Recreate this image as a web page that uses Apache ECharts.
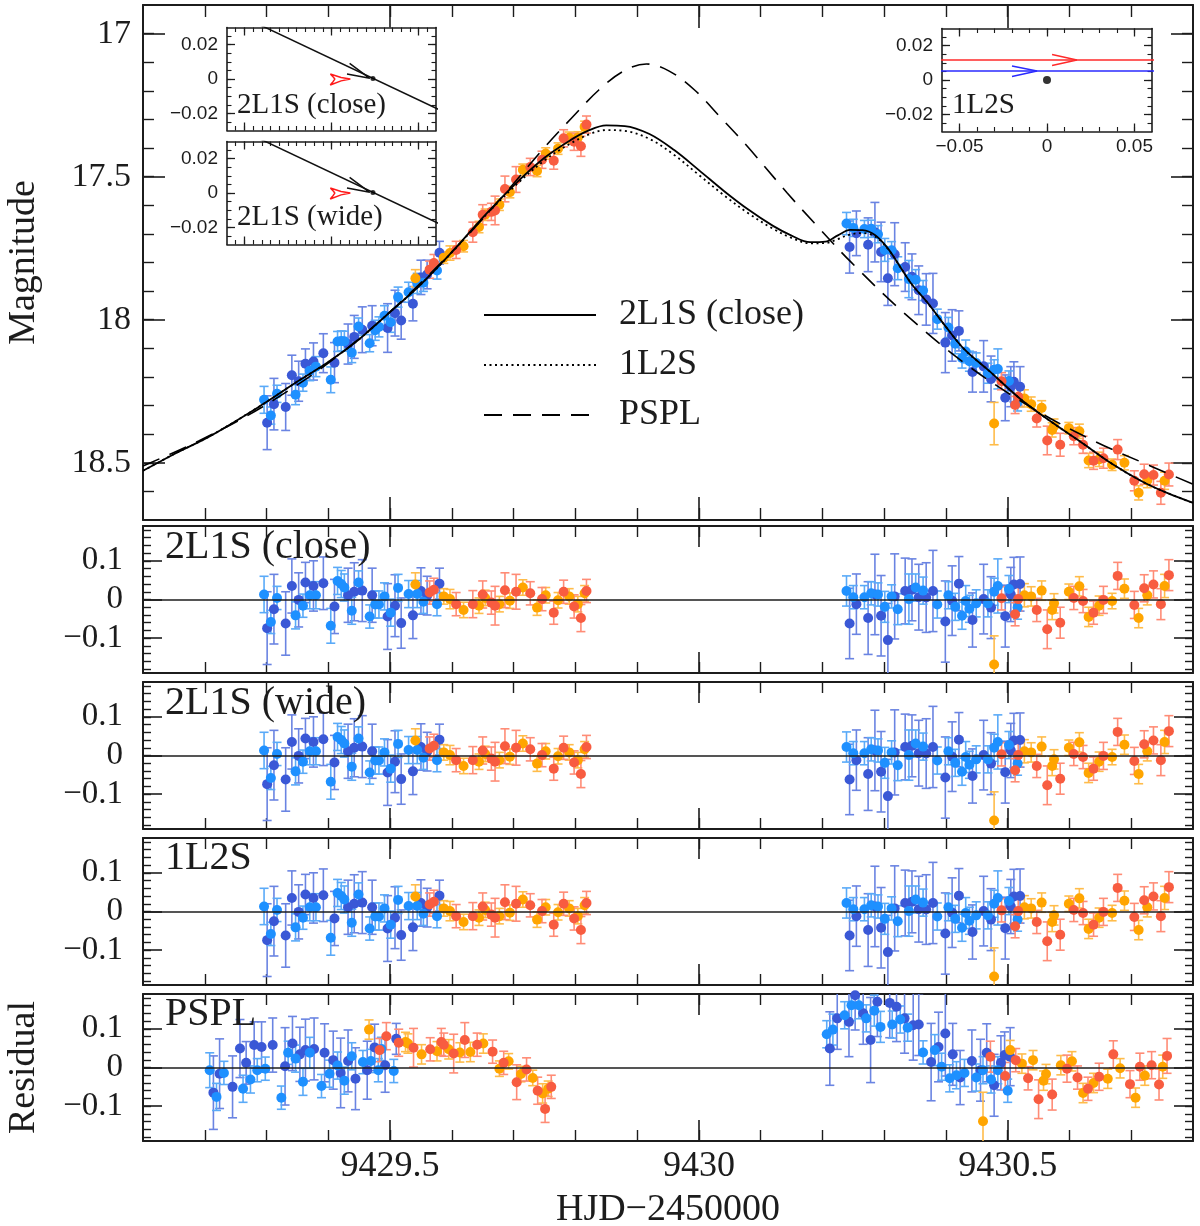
<!DOCTYPE html>
<html><head><meta charset="utf-8">
<script src="https://cdn.jsdelivr.net/npm/echarts@6/dist/echarts.min.js"></script>
<style>html,body{margin:0;padding:0;background:#fff}#c{width:1200px;height:1226px}</style>
</head><body><div id="c"></div><script>
// ---------------- data ----------------
// observation times (HJD-2450000)
const tObs = [
9429.296,9429.301,9429.307,9429.312,9429.317,9429.331,9429.341,9429.347,9429.352,9429.359,
9429.363,9429.370,9429.376,9429.380,9429.392,9429.404,9429.410,9429.415,9429.421,9429.426,
9429.432,9429.438,9429.442,9429.449,9429.455,9429.467,9429.471,9429.476,9429.482,9429.491,
9429.496,9429.501,9429.508,9429.513,9429.518,9429.530,9429.537,9429.541,9429.544,9429.550,
9429.554,9429.560,9429.564,9429.571,9429.576,9429.580,9429.587,9429.597,9429.607,9429.619,
9429.634,9429.644,9429.650,9429.654,9429.664,9429.670,9429.677,9429.686,9429.694,9429.704,
9429.715,9429.727,9429.738,9429.746,9429.752,9429.765,9429.772,9429.781,9429.790,9429.798,
9429.804,9429.809,9429.815,9429.818,
9430.239,9430.244,9430.250,9430.255,9430.268,9430.274,9430.279,9430.285,9430.290,9430.295,
9430.301,9430.306,9430.312,9430.317,9430.322,9430.334,9430.340,9430.345,9430.351,9430.356,
9430.363,9430.368,9430.379,9430.386,9430.399,9430.404,9430.410,9430.415,9430.421,9430.426,
9430.432,9430.438,9430.443,9430.449,9430.461,9430.468,9430.473,9430.478,9430.484,9430.490,
9430.496,9430.502,9430.505,9430.510,9430.516,9430.520,9430.478,9430.512,9430.517,9430.527,
9430.538,9430.547,9430.555,9430.564,9430.572,9430.575,9430.585,9430.599,9430.607,9430.616,
9430.622,9430.631,9430.639,9430.648,9430.655,9430.669,9430.678,9430.689,9430.705,9430.712,
9430.721,9430.726,9430.736,9430.748,9430.754,9430.761];
// observed magnitudes
const magObs = [
18.280,18.360,18.335,18.295,18.259,18.305,18.194,18.262,18.215,18.220,
18.154,18.178,18.146,18.164,18.117,18.210,18.150,18.076,18.074,18.075,
18.085,18.115,18.060,18.024,18.035,18.082,18.021,18.037,18.025,17.986,
18.029,18.009,17.977,17.921,18.003,17.904,17.944,17.855,17.873,17.852,
17.871,17.842,17.825,17.802,17.828,17.766,17.783,17.767,17.756,17.743,
17.694,17.676,17.633,17.633,17.623,17.618,17.598,17.543,17.554,17.510,
17.476,17.466,17.480,17.441,17.419,17.444,17.402,17.366,17.364,17.378,
17.363,17.394,17.326,17.318,
17.664,17.746,17.679,17.698,17.683,17.738,17.682,17.694,17.701,17.763,
17.756,17.855,17.757,17.771,17.820,17.816,17.858,17.850,17.860,17.897,
17.898,17.929,17.943,17.998,18.080,18.027,18.055,18.084,18.039,18.134,
18.111,18.145,18.183,18.151,18.163,18.187,18.207,18.175,18.172,18.215,
18.273,18.214,18.234,18.217,18.289,18.234,18.363,18.298,18.269,18.275,
18.295,18.345,18.308,18.422,18.385,18.372,18.437,18.379,18.407,18.390,
18.437,18.492,18.493,18.488,18.484,18.507,18.454,18.500,18.563,18.605,
18.540,18.562,18.543,18.605,18.563,18.541];
// photometric errors
const errObs = [
0.047,0.094,0.030,0.090,0.030,0.082,0.070,0.035,0.070,0.030,
0.052,0.035,0.065,0.035,0.068,0.045,0.070,0.035,0.035,0.035,
0.070,0.035,0.075,0.030,0.080,0.030,0.070,0.035,0.035,0.035,
0.085,0.035,0.080,0.035,0.065,0.035,0.060,0.030,0.035,0.060,
0.030,0.050,0.030,0.030,0.030,0.040,0.020,0.025,0.030,0.020,
0.035,0.020,0.035,0.020,0.030,0.050,0.020,0.045,0.020,0.045,
0.020,0.030,0.020,0.030,0.020,0.030,0.020,0.030,0.020,0.030,
0.020,0.035,0.020,0.030,
0.039,0.091,0.030,0.078,0.030,0.094,0.030,0.104,0.030,0.104,
0.040,0.095,0.030,0.110,0.040,0.085,0.065,0.080,0.035,0.085,
0.035,0.090,0.105,0.035,0.105,0.035,0.090,0.035,0.070,0.035,
0.040,0.035,0.070,0.035,0.090,0.035,0.080,0.035,0.070,0.030,
0.080,0.035,0.070,0.070,0.030,0.070,0.074,0.030,0.030,0.030,
0.025,0.030,0.025,0.050,0.025,0.025,0.040,0.020,0.030,0.025,
0.030,0.025,0.030,0.025,0.035,0.020,0.035,0.025,0.035,0.025,
0.035,0.025,0.035,0.040,0.030,0.040];
// observatory / data set of each point: L light blue, D dark blue, O orange, R red
const colObs = ("LDLDLDDLDL"+"DLDLDLDLLL"+"DLDLDLDLLL"+"DLDLDLDOLD"+"LDRRLDOORO"+"RORORROROR"+"OROROROROR"+"OROR"+
  "LDLDLDLDLD"+"LDLDLDLDLD"+"LDDLDLDLDL"+"LLDLDLDLLR"+"DLDDLDORRO"+"OROROORORO"+"RORORORORO"+"RORROR").split('');
// residuals from the 2L1S (close) model (wide and 1L2S residuals are indistinguishable in the figure)
const resClose = [
0.013,-0.074,-0.058,-0.025,0.004,-0.062,0.035,-0.041,-0.001,-0.016,
0.044,0.011,0.035,0.011,0.042,-0.068,-0.018,0.048,0.040,0.031,
0.011,-0.029,0.020,0.044,0.023,-0.044,0.011,-0.013,-0.013,0.008,
-0.044,-0.034,-0.016,0.030,-0.061,0.014,-0.041,0.039,0.014,0.022,
-0.006,0.010,0.018,0.025,-0.012,0.041,0.008,0.001,-0.012,-0.027,
-0.012,-0.016,0.013,0.004,-0.008,-0.016,-0.012,0.024,-0.003,0.020,
0.031,0.016,-0.021,0.001,0.011,-0.034,-0.002,0.020,0.008,-0.018,
-0.012,-0.048,0.016,0.022,
0.022,-0.062,0.006,-0.012,0.006,-0.048,0.016,0.013,0.013,-0.042,
-0.019,-0.105,0.008,0.008,-0.025,0.022,0.001,0.025,0.031,0.006,
0.023,0.005,0.022,-0.013,-0.057,0.011,-0.003,-0.019,0.041,-0.042,
-0.004,-0.024,-0.053,-0.010,0.001,-0.010,-0.021,0.020,0.035,0.003,
-0.043,0.027,0.013,0.039,-0.021,0.040,-0.168,-0.038,0.001,0.011,
0.008,-0.027,0.023,-0.077,-0.027,-0.010,-0.060,0.020,0.004,0.034,
-0.004,-0.045,-0.034,-0.016,-0.001,-0.004,0.061,0.028,-0.014,-0.048,
0.029,0.011,0.039,-0.012,0.035,0.063];
const resWide = resClose;
const res1L2S = resClose;

// PSPL residual panel (points as plotted there)
const tPspl = [
9429.208,9429.214,9429.219,9429.224,9429.231,9429.245,9429.257,9429.262,9429.267,9429.274,
9429.280,9429.285,9429.292,9429.298,9429.310,9429.324,9429.330,9429.335,9429.342,9429.347,
9429.354,9429.359,9429.363,9429.370,9429.377,9429.389,9429.394,9429.402,9429.408,9429.415,
9429.420,9429.426,9429.432,9429.438,9429.444,9429.456,9429.463,9429.469,9429.475,9429.481,
9429.486,9429.492,9429.506,9429.510,
9429.466,9429.483,9429.494,9429.514,9429.525,9429.529,9429.538,9429.551,9429.565,9429.576,
9429.583,9429.587,9429.595,9429.603,9429.613,9429.621,9429.630,9429.641,9429.651,9429.666,
9429.677,9429.684,9429.692,9429.705,9429.712,9429.721,9429.731,9429.739,9429.747,9429.751,
9429.756,9429.761,
9430.207,9430.212,9430.217,9430.224,9430.236,9430.243,9430.247,9430.253,9430.259,9430.266,
9430.271,9430.278,9430.284,9430.289,9430.294,9430.309,9430.313,9430.320,9430.326,9430.333,
9430.338,9430.347,9430.356,9430.363,9430.376,9430.382,9430.388,9430.393,9430.399,9430.406,
9430.411,9430.417,9430.423,9430.430,9430.442,9430.449,9430.456,9430.460,9430.466,9430.473,
9430.478,9430.484,9430.489,9430.495,9430.500,9430.504,
9430.460,9430.472,9430.496,9430.504,9430.513,9430.523,9430.533,9430.541,9430.550,9430.558,
9430.562,9430.572,9430.586,9430.596,9430.604,9430.613,9430.622,9430.630,9430.639,9430.648,
9430.662,9430.671,9430.682,9430.698,9430.707,9430.714,9430.722,9430.733,9430.745,9430.751,
9430.758];
const resPspl = [
-0.007,-0.065,-0.076,-0.016,-0.014,-0.050,0.049,-0.055,0.012,-0.031,
0.058,-0.007,0.053,-0.003,0.058,-0.078,0.003,0.038,0.062,0.023,
0.034,-0.037,0.045,0.038,0.048,-0.048,0.038,-0.016,0.019,0.005,
-0.014,-0.034,0.017,0.029,-0.029,0.014,-0.007,0.017,0.052,-0.007,
0.048,0.006,-0.009,0.074,
0.098,0.045,0.081,0.064,0.066,0.062,0.051,0.034,0.047,0.042,
0.066,0.059,0.047,0.036,0.039,0.071,0.040,0.059,0.062,0.041,
-0.003,0.012,0.016,-0.038,-0.017,-0.005,-0.027,-0.060,-0.067,-0.107,
-0.055,-0.050,
0.086,0.049,0.098,0.127,0.135,0.118,0.161,0.187,0.161,0.140,
0.127,0.071,0.147,0.170,0.105,0.167,0.111,0.157,0.124,0.127,
0.103,0.109,0.111,0.039,0.014,0.045,0.053,0.002,0.088,-0.028,
0.034,-0.020,-0.026,-0.014,0.017,-0.026,-0.007,-0.007,0.038,-0.031,
-0.046,-0.007,0.012,0.032,-0.060,0.028,
-0.139,0.028,-0.022,0.045,0.019,0.010,-0.028,0.019,-0.082,-0.034,
-0.017,-0.070,0.006,-0.003,0.016,-0.026,-0.066,-0.055,-0.040,-0.024,
-0.029,0.034,-0.002,-0.043,-0.078,0.002,-0.021,0.006,-0.044,0.002,
0.030];
const errPspl = [
0.045,0.095,0.035,0.090,0.030,0.080,0.075,0.035,0.055,0.035,
0.060,0.030,0.065,0.030,0.070,0.030,0.100,0.030,0.070,0.035,
0.070,0.035,0.080,0.040,0.080,0.030,0.075,0.035,0.075,0.035,
0.090,0.035,0.080,0.035,0.080,0.030,0.075,0.030,0.060,0.030,
0.030,0.070,0.030,0.040,
0.025,0.030,0.035,0.035,0.025,0.025,0.050,0.025,0.030,0.025,
0.035,0.030,0.025,0.050,0.025,0.045,0.025,0.030,0.025,0.030,
0.020,0.030,0.020,0.045,0.020,0.030,0.020,0.035,0.025,0.035,
0.020,0.030,
0.035,0.095,0.040,0.080,0.035,0.090,0.040,0.090,0.035,0.080,
0.035,0.110,0.040,0.090,0.040,0.090,0.035,0.090,0.035,0.090,
0.035,0.090,0.080,0.030,0.100,0.040,0.090,0.035,0.110,0.035,
0.080,0.035,0.070,0.035,0.080,0.035,0.080,0.035,0.075,0.035,
0.080,0.035,0.070,0.060,0.030,0.075,
0.075,0.040,0.035,0.025,0.030,0.025,0.030,0.025,0.050,0.025,
0.025,0.040,0.025,0.035,0.025,0.030,0.025,0.030,0.025,0.035,
0.025,0.035,0.025,0.035,0.025,0.035,0.025,0.035,0.040,0.030,
0.045];
const colPspl = ("LDLDLDDLDL"+"DLDLDLDLDL"+"DLDLDLDLDL"+"DLDLDLDLDL"+"LDLD"+
  "ORRROORORO"+"RROROROROR"+"OROROROROR"+"OR"+
  "LDLDLDLDLD"+"LDLDLDLDLD"+"LDDLDLDLDL"+"DLDLDLDLDL"+"DLDDLD"+
  "ORRORORORO"+"OROROROROR"+"ORORORORRO"+"R").split('');

// model light curves
const curveCloseT = [9429.10,9429.15,9429.21,9429.29,9429.35,9429.40,9429.45,9429.50,9429.55,9429.60,9429.65,9429.70,9429.75,9429.79,9429.82,9429.85,9429.88,9429.92,9429.96,9430.00,9430.04,9430.08,9430.12,9430.15,9430.18,9430.205,9430.225,9430.245,9430.265,9430.285,9430.305,9430.325,9430.345,9430.37,9430.40,9430.43,9430.47,9430.52,9430.57,9430.62,9430.67,9430.72,9430.76,9430.80];
const curveCloseM = [18.528,18.470,18.405,18.301,18.216,18.148,18.068,17.973,17.876,17.764,17.643,17.531,17.434,17.375,17.340,17.321,17.323,17.351,17.407,17.477,17.549,17.615,17.672,17.706,17.729,17.727,17.705,17.686,17.687,17.704,17.748,17.812,17.877,17.940,18.025,18.104,18.179,18.276,18.356,18.430,18.505,18.568,18.607,18.640];
const curve1L2ST = curveCloseT;
const curve1L2SM = [18.528,18.470,18.405,18.301,18.216,18.148,18.068,17.973,17.876,17.765,17.646,17.537,17.443,17.387,17.354,17.337,17.340,17.368,17.424,17.494,17.564,17.628,17.682,17.714,17.733,17.732,17.718,17.702,17.697,17.709,17.750,17.812,17.877,17.940,18.025,18.104,18.179,18.276,18.356,18.430,18.505,18.568,18.607,18.640];
const curvePsplT = [9429.10,9429.191,9429.293,9429.401,9429.498,9429.584,9429.644,9429.687,9429.752,9429.794,9429.838,9429.878,9429.915,9429.952,9429.993,9430.036,9430.078,9430.143,9430.187,9430.246,9430.332,9430.429,9430.537,9430.639,9430.731,9430.80];
const curvePsplM = [18.511,18.423,18.305,18.150,17.976,17.798,17.662,17.557,17.393,17.295,17.197,17.131,17.106,17.131,17.197,17.295,17.393,17.557,17.662,17.798,17.976,18.150,18.305,18.423,18.511,18.575];

// insets (source plane geometry)
const trajX = [-0.06, 0.07], trajY = [0.0406, -0.0218];
const arrowX = [0.0104, 0.0220, 0.0089], arrowY = [0.0091, 0.0004, 0.0029];
const causticX = [-0.0007, 0.0055, 0.0108, 0.0055, -0.0007, 0.0010, 0.0019, 0.0010, -0.0007];
const causticY = [0.0029, 0.0009, 0.0000, -0.0011, -0.0035, -0.0014, 0.0000, 0.0012, 0.0029];
const sourceX = [0.0238], sourceY = [0.0003];
const lineX = [-0.07, 0.07];
const redY = 0.0116, blueY = 0.0052;
const redArrowX = [0.0029, 0.0171, 0.0029], redArrowY = [0.0148, 0.0116, 0.0084];
const blueArrowX = [-0.0200, -0.0057, -0.0200], blueArrowY = [0.0082, 0.0052, 0.0020];
const lensX = [0], lensY = [0];

// tick labels
const xTickVals = [9429.5, 9430, 9430.5];
const magTickVals = [17, 17.5, 18, 18.5];
const resTickVals = [-0.1, 0, 0.1];
const insetYTickVals = [-0.02, 0, 0.02];
const insetXTickVals = [-0.05, 0, 0.05];

// ---------------- chart ----------------
const XMIN = 9429.1, XMAX = 9430.8;
const SERIF = "'Liberation Serif','Times New Roman',serif";
const SANS = "'Liberation Sans',Arial,sans-serif";
const INK = '#1c1c1c';
const COL = {L:'#1E90FF', D:'#3A58D6', O:'#FFA500', R:'#F85C40'};
const ECOL = {L:'#5AAAF8', D:'#6A84E2', O:'#FFBC4A', R:'#FF8C76'};

function steps(a, b, s){ const out=[]; const n=Math.round((b-a)/s); for(let k=0;k<=n;k++) out.push(+(a+k*s).toFixed(4)); return out; }
const xMinor = steps(9429.2, 9430.7, 0.1);
const magMinor = steps(17.0, 18.6, 0.1);
const resMinor = steps(-0.18, 0.18, 0.02);
const inYMinor = steps(-0.025, 0.025, 0.005);
const in12XMinor = steps(-0.055, 0.055, 0.005);
const in3XMinor = steps(-0.05, 0.05, 0.01);

function fmt(v){ const r = Math.round(v*1000)/1000; return (r<0?'\u2212':'') + String(Math.abs(r)); }
function zip(a, b){ return a.map((v,i)=>[v, b[i]]); }

const grids = [
  {left:143, top:5, width:1050, height:515},
  {left:143, top:526, width:1050, height:147},
  {left:143, top:682, width:1050, height:147},
  {left:143, top:838, width:1050, height:147},
  {left:143, top:994, width:1050, height:147},
  {left:227, top:27.5, width:209, height:103, show:true, backgroundColor:'#fff', borderWidth:0, z:3},
  {left:227, top:141.5, width:209, height:103, show:true, backgroundColor:'#fff', borderWidth:0, z:3},
  {left:942, top:28.5, width:210, height:103, show:true, backgroundColor:'#fff', borderWidth:0, z:3}
].map(g => Object.assign({containLabel:false, outerBoundsMode:'none'}, g));

const xAxes = [], yAxes = [];
function axPair(list, grid, min, max, pos, major, minor, lenMaj, lenMin, label, extra, lw){
  lw = lw || 2;
  const base = Object.assign({type:'value', gridIndex:grid, min:min, max:max, position:pos, offset:0,
    splitLine:{show:false}, splitArea:{show:false}, minorTick:{show:false}}, extra || {});
  const maj = Object.assign({}, base, {
    axisLine:{show:true, onZero:false, lineStyle:{color:INK, width:lw}},
    axisTick:{show:true, inside:true, length:lenMaj, customValues:major, lineStyle:{color:INK, width:lw*0.8}},
    axisLabel: label ? Object.assign({show:true, customValues:major, formatter:fmt, color:INK}, label) : {show:false}
  });
  const mnr = Object.assign({}, base, {
    name:'', axisLine:{show:false, onZero:false},
    axisTick:{show:true, inside:true, length:lenMin, customValues:minor, lineStyle:{color:INK, width:lw*0.7}},
    axisLabel:{show:false}
  });
  list.push(maj); const idx = list.length-1; list.push(mnr); return idx;
}

const ax = [];
// main panel
ax[0] = {
  x: axPair(xAxes, 0, XMIN, XMAX, 'bottom', xTickVals, xMinor, 23, 12, null, null),
  y: axPair(yAxes, 0, 16.9, 18.7, 'left', magTickVals, magMinor, 22, 11,
      {fontSize:34, fontFamily:SERIF, margin:12},
      {inverse:true, name:'Magnitude', nameLocation:'middle', nameGap:100, nameMoveOverlap:false,
       nameTextStyle:{fontSize:38, fontFamily:SERIF, color:INK}})
};
axPair(xAxes, 0, XMIN, XMAX, 'top', xTickVals, xMinor, 23, 12, null, null);
axPair(yAxes, 0, 16.9, 18.7, 'right', magTickVals, magMinor, 22, 11, null, {inverse:true});
// residual panels
for (let g = 1; g <= 4; g++) {
  const last = g === 4;
  ax[g] = {
    x: axPair(xAxes, g, XMIN, XMAX, 'bottom', xTickVals, xMinor, 21, 11,
        last ? {fontSize:36, fontFamily:SERIF, margin:8} : null,
        last ? {name:'HJD\u22122450000', nameLocation:'middle', nameGap:50, nameMoveOverlap:false,
                nameTextStyle:{fontSize:38, fontFamily:SERIF, color:INK}} : null),
    y: axPair(yAxes, g, -0.19, 0.19, 'left', resTickVals, resMinor, 19, 8,
        {fontSize:33, fontFamily:SERIF, margin:20},
        last ? {name:'Residual', nameLocation:'middle', nameGap:100, nameMoveOverlap:false,
                nameTextStyle:{fontSize:38, fontFamily:SERIF, color:INK}} : null)
  };
  axPair(xAxes, g, XMIN, XMAX, 'top', xTickVals, xMinor, 21, 11, null, null);
  axPair(yAxes, g, -0.19, 0.19, 'right', resTickVals, resMinor, 19, 8, null, null);
}
// insets
for (let g = 5; g <= 7; g++) {
  const xm = g === 7 ? in3XMinor : in12XMinor;
  const zz = {z:4};
  ax[g] = {
    x: axPair(xAxes, g, -0.06, 0.06, 'bottom', insetXTickVals, xm, 8, 4.5,
        g === 7 ? {fontSize:19, fontFamily:SANS, margin:6} : null, zz, 1.6),
    y: axPair(yAxes, g, -0.03, 0.03, 'left', insetYTickVals, inYMinor, 8, 4.5,
        {fontSize:19, fontFamily:SANS, margin:9}, zz, 1.6)
  };
  axPair(xAxes, g, -0.06, 0.06, 'top', insetXTickVals, xm, 8, 4.5, null, zz, 1.6);
  axPair(yAxes, g, -0.03, 0.03, 'right', insetYTickVals, inYMinor, 8, 4.5, null, zz, 1.6);
}

function errRender(color){
  return function(params, api){
    const x = api.value(0);
    const a = api.coord([x, api.value(1)]), b = api.coord([x, api.value(2)]);
    const w = 4.5, st = {stroke:color, lineWidth:1.6};
    return {type:'group', children:[
      {type:'line', shape:{x1:a[0], y1:a[1], x2:b[0], y2:b[1]}, style:st},
      {type:'line', shape:{x1:a[0]-w, y1:a[1], x2:a[0]+w, y2:a[1]}, style:st},
      {type:'line', shape:{x1:b[0]-w, y1:b[1], x2:b[0]+w, y2:b[1]}, style:st}
    ]};
  };
}
const series = [];
function addObs(g, tArr, yArr, eArr, cArr, zeroLine){
  ['D','L','O','R'].forEach((c, k) => {
    const pts = [], bars = [];
    tArr.forEach((t, i) => { if (cArr[i] === c) { pts.push([t, yArr[i]]); bars.push([t, yArr[i]-eArr[i], yArr[i]+eArr[i]]); } });
    series.push({type:'custom', xAxisIndex:ax[g].x, yAxisIndex:ax[g].y, data:bars, clip:true, silent:true,
      encode:{x:0, y:[1,2]}, renderItem:errRender(ECOL[c]), z:2});
    const s = {type:'scatter', xAxisIndex:ax[g].x, yAxisIndex:ax[g].y, data:pts, symbol:'circle', symbolSize:10,
      itemStyle:{color:COL[c], opacity:1}, silent:true, clip:true, z:3};
    if (zeroLine && k === 3) s.markLine = {silent:true, symbol:['none','none'], label:{show:false},
      lineStyle:{color:INK, width:1.5, type:'solid'}, data:[{yAxis:0}], animation:false, z:4};
    series.push(s);
  });
}
addObs(0, tObs, magObs, errObs, colObs, false);
addObs(1, tObs, resClose, errObs, colObs, true);
addObs(2, tObs, resWide, errObs, colObs, true);
addObs(3, tObs, res1L2S, errObs, colObs, true);
addObs(4, tPspl, resPspl, errPspl, colPspl, true);

function curve(name, T, M, type, width){
  series.push({type:'line', name:name, xAxisIndex:ax[0].x, yAxisIndex:ax[0].y, data:zip(T, M),
    smooth:0.35, symbol:'none', showSymbol:false, silent:true, z:6, color:'#000',
    itemStyle:{color:'rgba(0,0,0,0)', opacity:0},
    lineStyle:{color:'#000', width:width, type:type}});
}
curve('2L1S (close)', curveCloseT, curveCloseM, 'solid', 1.8);
curve('1L2S', curve1L2ST, curve1L2SM, [2, 3.5], 1.8);
curve('PSPL', curvePsplT, curvePsplM, [18, 11], 1.6);

function insetLine(g, data, color){
  series.push({type:'line', xAxisIndex:ax[g].x, yAxisIndex:ax[g].y, data:data, symbol:'none', silent:true,
    lineStyle:{color:color, width:1.5}, z:6, clip:true});
}
function insetDot(g, X, Y, size){
  series.push({type:'scatter', xAxisIndex:ax[g].x, yAxisIndex:ax[g].y, data:zip(X, Y), symbolSize:size,
    itemStyle:{color:'#000'}, silent:true, z:7});
}
[5, 6].forEach(g => {
  insetLine(g, zip(trajX, trajY), '#111');
  insetLine(g, zip(arrowX, arrowY), '#111');
  insetLine(g, zip(causticX, causticY), '#ff1a1a');
  insetDot(g, sourceX, sourceY, 5);
});
insetLine(7, zip(lineX, [redY, redY]), '#ff2a2a');
insetLine(7, zip(redArrowX, redArrowY), '#ff2a2a');
insetLine(7, zip(lineX, [blueY, blueY]), '#2a2aff');
insetLine(7, zip(blueArrowX, blueArrowY), '#2a2aff');
insetDot(7, lensX, lensY, 8);

function txt(x, y, s, size){
  return {type:'text', x:x, y:y, z:50, silent:true,
    style:{text:s, fontSize:size, fontFamily:SERIF, fill:INK, verticalAlign:'middle', align:'left'}};
}
const option = {
  animation:false,
  backgroundColor:'#fff',
  grid: grids,
  xAxis: xAxes,
  yAxis: yAxes,
  legend: {data:['2L1S (close)','1L2S','PSPL'], orient:'vertical', left:478, top:292,
    itemWidth:112, itemHeight:14, itemGap:14, selectedMode:false,
    itemStyle:{color:'rgba(0,0,0,0)', borderColor:'rgba(0,0,0,0)', borderWidth:0, opacity:0},
    lineStyle:{color:'#000'},
    formatter: n => '  ' + n,
    textStyle:{fontSize:36, fontFamily:SERIF, color:INK, lineHeight:36}},
  series: series,
  graphic: [
    txt(165, 547, '2L1S (close)', 40),
    txt(165, 703, '2L1S (wide)', 40),
    txt(165, 858, '1L2S', 40),
    txt(165, 1014, 'PSPL', 40),
    txt(237, 105, '2L1S (close)', 29),
    txt(237, 217, '2L1S (wide)', 29),
    txt(952, 105, '1L2S', 29)
  ]
};
const chart = echarts.init(document.getElementById('c'), null, {renderer:'canvas'});
chart.setOption(option);
</script></body></html>
